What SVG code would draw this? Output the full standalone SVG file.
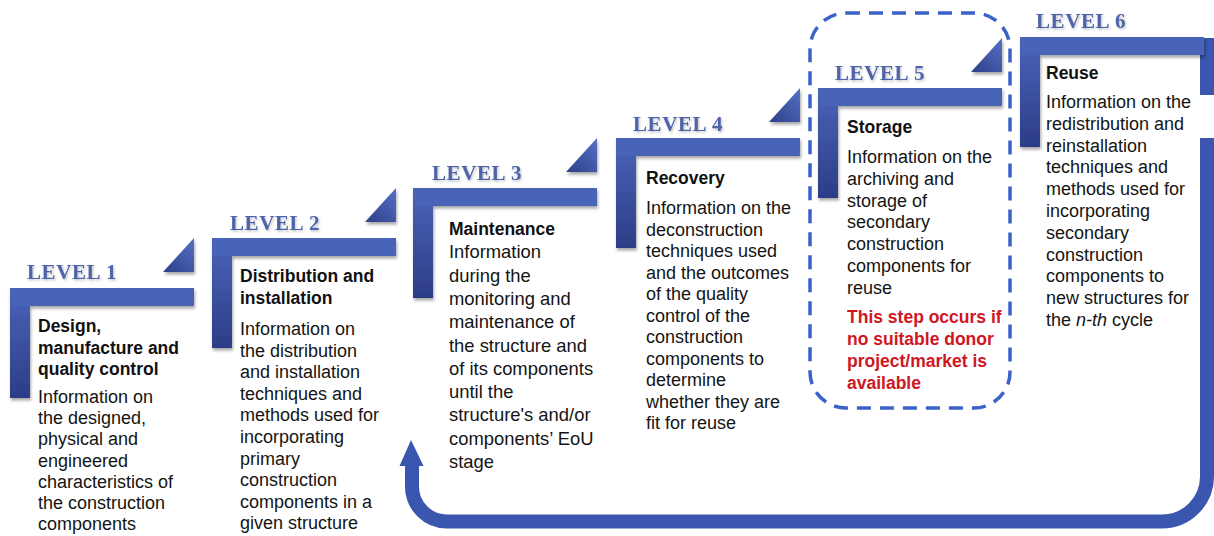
<svg xmlns="http://www.w3.org/2000/svg" width="1214" height="536" viewBox="0 0 1214 536">
<style>
.t{font-family:"Liberation Sans",Arial,sans-serif;font-size:18px;fill:#141414}
.t3{font-family:"Liberation Sans",Arial,sans-serif;font-size:18.4px;fill:#141414}
.b{font-family:"Liberation Sans",Arial,sans-serif;font-size:17.5px;font-weight:bold;fill:#111}
.r{font-family:"Liberation Sans",Arial,sans-serif;font-size:17.5px;font-weight:bold;fill:#d0161f}
.lv{font-family:"Liberation Serif","Times New Roman",serif;font-size:21px;font-weight:bold;fill:#4f64a9;letter-spacing:0.6px}
.hb{fill:#4a63b9}
.vb{fill:url(#gv)}
.tri{fill:url(#gt)}
.ret{fill:none;stroke:#3a56ae;stroke-width:14}
</style>
<defs>
<linearGradient id="gv" x1="0" y1="0" x2="0" y2="1">
<stop offset="0" stop-color="#4b64ba"/>
<stop offset="1" stop-color="#2c3d86"/>
</linearGradient>
<linearGradient id="gt" x1="1" y1="0" x2="0" y2="1">
<stop offset="0" stop-color="#5570c6"/>
<stop offset="1" stop-color="#2d3f88"/>
</linearGradient>
<filter id="sh" x="-10%" y="-10%" width="130%" height="140%">
<feDropShadow dx="1" dy="2.5" stdDeviation="1.8" flood-color="#000" flood-opacity="0.35"/>
</filter>
<filter id="ts" x="-5%" y="-20%" width="115%" height="160%">
<feDropShadow dx="1" dy="1.5" stdDeviation="1" flood-color="#000" flood-opacity="0.25"/>
</filter>
<g id="bracket">
<rect class="vb" x="0" y="0" width="20" height="110"/>
<rect class="hb" x="0" y="0" width="184" height="18"/>
</g>
</defs>

<g id="connectors">
<rect x="1200" y="38" width="14" height="57" fill="#3a56ae"/>
<path class="ret" d="M1207 138 V476 A45 45 0 0 1 1162 521.5 H447 A35 35 0 0 1 412 486.5 V462"/>
<polygon points="411,440 399.5,466 423.5,466" fill="#3a56ae"/>
</g>

<g id="storage-box">
<rect x="810" y="13" width="200" height="395" rx="36" ry="36" fill="none" stroke="#3b62c8" stroke-width="3.5" stroke-dasharray="14 9"/>
</g>

<g id="level1">
<use href="#bracket" x="10" y="288" filter="url(#sh)"/>
<polygon class="tri" points="163,272 194,238 194,272" filter="url(#sh)"/>
<text class="lv" x="27" y="279" filter="url(#ts)">LEVEL 1</text>
<text class="b" x="38" y="332">Design,</text>
<text class="b" x="38" y="353.5">manufacture and</text>
<text class="b" x="38" y="375">quality control</text>
<text class="t" x="38" y="403">Information on</text>
<text class="t" x="38" y="424.2">the designed,</text>
<text class="t" x="38" y="445.4">physical and</text>
<text class="t" x="38" y="466.6">engineered</text>
<text class="t" x="38" y="487.8">characteristics of</text>
<text class="t" x="38" y="509">the construction</text>
<text class="t" x="38" y="530.2">components</text>
</g>

<g id="level2">
<use href="#bracket" x="212" y="238" filter="url(#sh)"/>
<polygon class="tri" points="365,222 396,188 396,222" filter="url(#sh)"/>
<text class="lv" x="230" y="230" filter="url(#ts)">LEVEL 2</text>
<text class="b" x="240" y="282">Distribution and</text>
<text class="b" x="240" y="303.5">installation</text>
<text class="t" x="240" y="335">Information on</text>
<text class="t" x="240" y="356.6">the distribution</text>
<text class="t" x="240" y="378.2">and installation</text>
<text class="t" x="240" y="399.8">techniques and</text>
<text class="t" x="240" y="421.4">methods used for</text>
<text class="t" x="240" y="443">incorporating</text>
<text class="t" x="240" y="464.6">primary</text>
<text class="t" x="240" y="486.2">construction</text>
<text class="t" x="240" y="507.8">components in a</text>
<text class="t" x="240" y="529.4">given structure</text>
</g>

<g id="level3">
<use href="#bracket" x="413" y="188" filter="url(#sh)"/>
<polygon class="tri" points="566,172 597,138 597,172" filter="url(#sh)"/>
<text class="lv" x="432" y="180" filter="url(#ts)">LEVEL 3</text>
<text class="b" x="449" y="235">Maintenance</text>
<text class="t3" x="449" y="258.3">Information</text>
<text class="t3" x="449" y="281.6">during the</text>
<text class="t3" x="449" y="304.9">monitoring and</text>
<text class="t3" x="449" y="328.2">maintenance of</text>
<text class="t3" x="449" y="351.5">the structure and</text>
<text class="t3" x="449" y="374.8">of its components</text>
<text class="t3" x="449" y="398.1">until the</text>
<text class="t3" x="449" y="421.4">structure's and/or</text>
<text class="t3" x="449" y="444.7">components’ EoU</text>
<text class="t3" x="449" y="468">stage</text>
</g>

<g id="level4">
<use href="#bracket" x="616" y="138" filter="url(#sh)"/>
<polygon class="tri" points="769,122 800,88 800,122" filter="url(#sh)"/>
<text class="lv" x="633" y="131" filter="url(#ts)">LEVEL 4</text>
<text class="b" x="646" y="184">Recovery</text>
<text class="t" x="646" y="214">Information on the</text>
<text class="t" x="646" y="235.5">deconstruction</text>
<text class="t" x="646" y="257">techniques used</text>
<text class="t" x="646" y="278.5">and the outcomes</text>
<text class="t" x="646" y="300">of the quality</text>
<text class="t" x="646" y="321.5">control of the</text>
<text class="t" x="646" y="343">construction</text>
<text class="t" x="646" y="364.5">components to</text>
<text class="t" x="646" y="386">determine</text>
<text class="t" x="646" y="407.5">whether they are</text>
<text class="t" x="646" y="429">fit for reuse</text>
</g>

<g id="level5">
<use href="#bracket" x="818" y="88" filter="url(#sh)"/>
<polygon class="tri" points="971,72 1002,38 1002,72" filter="url(#sh)"/>
<text class="lv" x="835" y="80" filter="url(#ts)">LEVEL 5</text>
<text class="b" x="847" y="133">Storage</text>
<text class="t" x="847" y="163">Information on the</text>
<text class="t" x="847" y="184.8">archiving and</text>
<text class="t" x="847" y="206.6">storage of</text>
<text class="t" x="847" y="228.4">secondary</text>
<text class="t" x="847" y="250.2">construction</text>
<text class="t" x="847" y="272">components for</text>
<text class="t" x="847" y="293.8">reuse</text>
<text class="r" x="847" y="323">This step occurs if</text>
<text class="r" x="847" y="345">no suitable donor</text>
<text class="r" x="847" y="367">project/market is</text>
<text class="r" x="847" y="389">available</text>
</g>

<g id="level6">
<use href="#bracket" x="1020" y="37" filter="url(#sh)"/>
<text class="lv" x="1036" y="28" filter="url(#ts)">LEVEL 6</text>
<text class="b" x="1046" y="79">Reuse</text>
<text class="t" x="1046" y="108">Information on the</text>
<text class="t" x="1046" y="129.8">redistribution and</text>
<text class="t" x="1046" y="151.6">reinstallation</text>
<text class="t" x="1046" y="173.4">techniques and</text>
<text class="t" x="1046" y="195.2">methods used for</text>
<text class="t" x="1046" y="217">incorporating</text>
<text class="t" x="1046" y="238.8">secondary</text>
<text class="t" x="1046" y="260.6">construction</text>
<text class="t" x="1046" y="282.4">components to</text>
<text class="t" x="1046" y="304.2">new structures for</text>
<text class="t" x="1046" y="326">the <tspan font-style="italic">n-th</tspan> cycle</text>
</g>
</svg>
